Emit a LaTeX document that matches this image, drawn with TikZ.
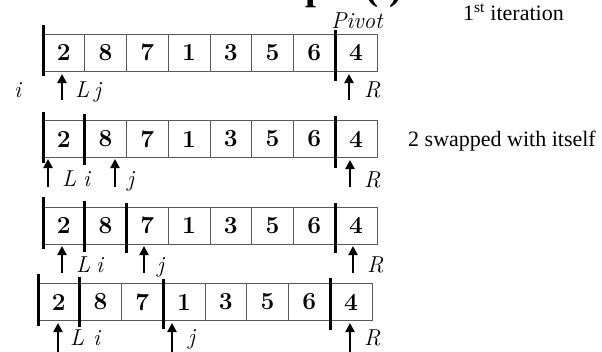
\documentclass[tikz,border=0pt]{standalone}
\usepackage{fontspec}
\newfontfamily\tnr{Liberation Serif}
\usetikzlibrary{arrows.meta}
\definecolor{cellgray}{RGB}{90,90,90}
\begin{document}
\begin{tikzpicture}[x=1pt,y=-1pt,
  cell/.style={draw=cellgray, line width=0.8pt, minimum width=41.75pt,
    minimum height=37pt, inner sep=0pt,
    font=\fontsize{24.5}{24.5}\selectfont\bfseries},
  bar/.style={line width=3pt, line cap=butt},
  ptr/.style={line width=2.6pt, -{Triangle[width=9pt,length=9pt]}},
  lbl/.style={anchor=base west, inner sep=0pt,
    font=\fontsize{23}{23}\selectfont\itshape},
  note/.style={anchor=base west, inner sep=0pt,
    font=\tnr\fontsize{22}{22}\selectfont}]
\useasboundingbox (0,0) rectangle (602,351);

% heading (runs off the top edge)
\node[anchor=base west, inner sep=0pt,
  font=\tnr\bfseries\fontsize{39}{39}\selectfont] (title) at (208,-0.5) {Example (i)};

% the four snapshots of the array
\foreach \v [count=\k] in {2,8,7,1,3,5,6,4} {
  \node[cell] (r1c\k) at ({43+(\k-0.5)*41.75},52.5) {\v};
  \node[cell] (r2c\k) at ({43+(\k-0.5)*41.75},139) {\v};
  \node[cell] (r3c\k) at ({43+(\k-0.5)*41.75},225.5) {\v};
  \node[cell] (r4c\k) at ({38+(\k-0.5)*41.75},302) {\v};
}

% partition boundaries
\draw[bar] (43,25) -- (43,76);
\draw[bar] (335.25,30) -- (335.25,81);

\draw[bar] (43,112) -- (43,163);
\draw[bar] (84.75,114) -- (84.75,165);
\draw[bar] (335.25,116) -- (335.25,168);

\draw[bar] (43,197) -- (43,249);
\draw[bar] (84.75,201) -- (84.75,252);
\draw[bar] (126.5,203) -- (126.5,253);
\draw[bar] (335.25,203) -- (335.25,253);

\draw[bar] (38,274) -- (38,326);
\draw[bar] (79.75,277) -- (79.75,327);
\draw[bar] (163.25,279) -- (163.25,329);
\draw[bar] (330.25,278) -- (330.25,330);

% pointer ends
\coordinate (p1Lb) at (62,100);  \coordinate (p1Lt) at (62,74);
\coordinate (p1Rb) at (349,100); \coordinate (p1Rt) at (349,74);
\coordinate (p2Lb) at (48,187);  \coordinate (p2Lt) at (48,159);
\coordinate (p2jb) at (115,187); \coordinate (p2jt) at (115,159);
\coordinate (p2Rb) at (350,187); \coordinate (p2Rt) at (350,160);
\coordinate (p3Lb) at (62,273);  \coordinate (p3Lt) at (62,246);
\coordinate (p3jb) at (144,273); \coordinate (p3jt) at (144,246);
\coordinate (p3Rb) at (353,273); \coordinate (p3Rt) at (353,246);
\coordinate (p4Lb) at (58,352);  \coordinate (p4Lt) at (58,323);
\coordinate (p4jb) at (172,352); \coordinate (p4jt) at (172,323);
\coordinate (p4Rb) at (350,352); \coordinate (p4Rt) at (350,323);

\foreach \p in {p1L,p1R,p2L,p2j,p2R,p3L,p3j,p3R,p4L,p4j,p4R}
  \draw[ptr] (\p b) -- (\p t);

% pointer labels
\node[lbl] (piv) at (331,28) {Pivot};
\node[lbl] (i1) at (14,97) {i};
\node[lbl] (L1) at (75,97) {L};
\node[lbl] (j1) at (94,97) {j};
\node[lbl] (R1) at (364,97) {R};

\node[lbl] (L2) at (62,186) {L};
\node[lbl] (i2) at (83,186) {i};
\node[lbl] (j2) at (127,186) {j};
\node[lbl] (R2) at (364,187) {R};

\node[lbl] (L3) at (76,272) {L};
\node[lbl] (i3) at (96,272) {i};
\node[lbl] (j3) at (157,272) {j};
\node[lbl] (R3) at (367,272) {R};

\node[lbl] (L4) at (70,345) {L};
\node[lbl] (i4) at (93,345) {i};
\node[lbl] (j4) at (188,344) {j};
\node[lbl] (R4) at (364,345) {R};

% notes
\node[note] (n1) at (463,20) {1\textsuperscript{st} iteration};
\node[note] (n2) at (408,146) {2 swapped with itself};
\end{tikzpicture}
\end{document}
